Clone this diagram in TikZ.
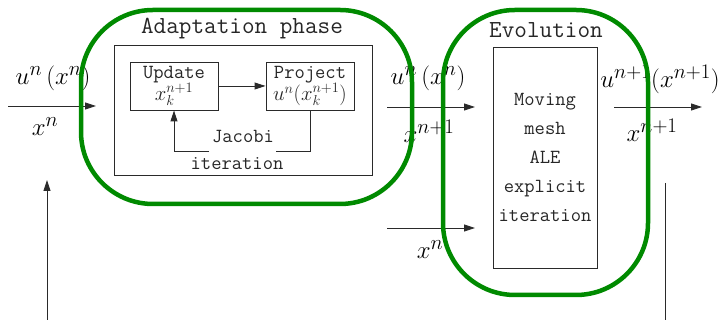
\documentclass[tikz,border=0pt]{standalone}
\usepackage{xcolor}
\definecolor{Phase}{HTML}{008A00}
\definecolor{Wire}{HTML}{2A2A2A}
\usepackage{tikz}
\usetikzlibrary{arrows.meta,positioning}
% larger scripts for the big labels
\DeclareMathSizes{30}{30}{22}{16}
\DeclareMathSizes{27}{27}{20}{15}
\DeclareMathSizes{21}{21}{15.5}{12}

\begin{document}
\begin{tikzpicture}[
  x=1pt,y=1pt,
  box/.style={draw=Wire,line width=0.9pt,align=center,inner sep=0pt,text=black!85,font=\fontsize{20}{21}\selectfont\ttfamily},
  frame/.style={draw=Wire,line width=0.9pt},
  phase/.style={draw=Phase,line width=4.5pt,rounded corners=72pt,inner sep=0pt},
  title/.style={text=black!85,font=\fontsize{24.5}{27}\selectfont\ttfamily},
  word/.style={text=black!85,font=\fontsize{20}{22}\selectfont\ttfamily},
  lbl/.style={font=\fontsize{27}{30}\selectfont,inner sep=0pt},
  biglbl/.style={font=\fontsize{30}{32}\selectfont,inner sep=0pt},
  arrow/.style={-{Triangle[length=11pt,width=7pt]},line width=0.9pt,color=Wire}
]
\useasboundingbox (0,0) rectangle (720,320);

% adaptation: update / project loop
\node[title] (adtitle) at (242,291) {Adaptation phase};
\node[frame,minimum width=258,minimum height=130] (inner) at (243,210) {};
\node[box,minimum width=88,minimum height=48] (update) at (174,234) {Update\\[-1pt]\fontsize{21}{21}\selectfont$x_k^{n+1}$};
\node[box,minimum width=88,minimum height=48] (project) at (310,234) {Project\\[-1pt]\fontsize{21}{21}\selectfont$u^n(x_k^{n+1})$};
\draw[arrow] (update) -- (project);
\coordinate (loopa) at (310,169);
\coordinate (loopb) at (276,169);
\coordinate (loopc) at (209,169);
\coordinate (loopd) at (174,169);
\draw[frame] (project.south) -- (loopa) -- (loopb);
\draw[arrow] (loopc) -- (loopd) -- (update.south);
\node[word] (jacobi) at (243,183) {Jacobi};
\node[word] (iter) at (237,156) {iteration};

% evolution step
\node[title] (evtitle) at (546,290) {Evolution};
\node[box,minimum width=104,minimum height=221,font=\fontsize{20}{29}\selectfont\ttfamily] (ale) at (545,162.5)
  {Moving\\mesh\\ALE\\explicit\\iteration};

% data passed between the phases
\coordinate (inA) at (8,214);
\coordinate (inB) at (96,214);
\coordinate (midA) at (387,213);
\coordinate (midB) at (475,213);
\coordinate (oldA) at (387,92);
\coordinate (oldB) at (475,92);
\coordinate (outA) at (614,213);
\coordinate (outB) at (702,213);
\coordinate (upA) at (47,0);
\coordinate (upB) at (47,140);
\coordinate (backA) at (665,137);
\coordinate (backB) at (665,0);

\node[biglbl] (uin) at (53,242) {$u^n\,(x^n)$};
\node[lbl] (xin) at (45,193) {$x^n$};
\node[biglbl] (umid) at (428,242) {$u^n\,(x^n)$};
\node[lbl] (xmid) at (429,189) {$x^{n+1}$};
\node[lbl] (xold) at (430,70) {$x^n$};
\node[lbl] (uout) at (660,241) {$u^{n+1}(x^{n+1})$};
\node[lbl] (xout) at (652,190) {$x^{n+1}$};

\draw[arrow] (inA) -- (inB);
\draw[arrow] (midA) -- (midB);
\draw[arrow] (oldA) -- (oldB);
\draw[arrow] (outA) -- (outB);
\draw[arrow] (upA) -- (upB);
\draw[frame] (backA) -- (backB);

% green phase outlines on top
\node[phase,minimum width=331,minimum height=194] (adapt) at (246.5,213) {};
\node[phase,minimum width=205,minimum height=285] (evol) at (545.5,167.5) {};
\end{tikzpicture}
\end{document}
